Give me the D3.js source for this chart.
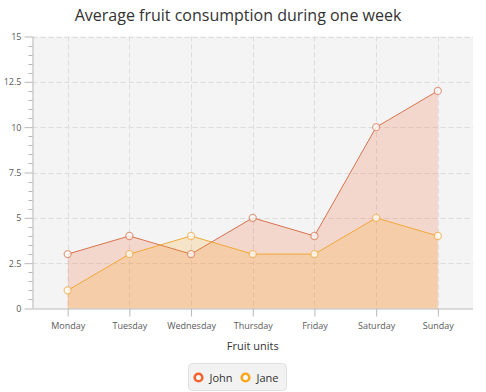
<!DOCTYPE html>
<html>
<head>
<meta charset="utf-8">
<script src="https://cdn.jsdelivr.net/npm/d3@7"></script>
<style>
  body { margin: 0; background: #fff; }
  text { font-family: "Open Sans", "Noto Sans", sans-serif; }
</style>
</head>
<body>
<svg id="chart" width="486" height="392"></svg>
<script>

var days = ['Monday', 'Tuesday', 'Wednesday', 'Thursday', 'Friday', 'Saturday', 'Sunday'];
var john = [3, 4, 3, 5, 4, 10, 12];
var jane = [1, 3, 4, 3, 3, 5, 4];
var yTicks = [0, 2.5, 5, 7.5, 10, 12.5, 15];
var seriesNames = ['John', 'Jane'];
var seriesColors = ['#f3622d', '#fba71b'];
var lineColors = ['#d9724f', '#f0a83a'];

var svg = d3.select('#chart');
var plot = { left: 32.5, right: 473, top: 36.5, bottom: 308.5 };

var x = d3.scalePoint()
    .domain(days)
    .range([plot.left, plot.right])
    .padding(0.57);

var y = d3.scaleLinear()
    .domain([0, 15])
    .range([plot.bottom, plot.top]);

// background
svg.append('rect')
    .attr('x', plot.left)
    .attr('y', plot.top)
    .attr('width', plot.right - plot.left)
    .attr('height', plot.bottom - plot.top)
    .attr('fill', '#f4f4f4');

// grid
svg.append('g')
    .selectAll('line')
    .data(yTicks.slice(1))
    .enter()
    .append('line')
    .attr('x1', plot.left)
    .attr('x2', plot.right)
    .attr('y1', function(d) { return Math.round(y(d)) + 0.5; })
    .attr('y2', function(d) { return Math.round(y(d)) + 0.5; })
    .attr('stroke', '#dcdcdc')
    .attr('stroke-dasharray', '5,3');

svg.append('g')
    .selectAll('line')
    .data(days)
    .enter()
    .append('line')
    .attr('x1', function(d) { return Math.round(x(d)) + 0.5; })
    .attr('x2', function(d) { return Math.round(x(d)) + 0.5; })
    .attr('y1', plot.top)
    .attr('y2', plot.bottom)
    .attr('stroke', '#dcdcdc')
    .attr('stroke-dasharray', '5,3');

// series
var series = [john, jane];

var area = d3.area()
    .x(function(d, i) { return x(days[i]); })
    .y0(y(0))
    .y1(function(d) { return y(d); });

var line = d3.line()
    .x(function(d, i) { return x(days[i]); })
    .y(function(d) { return y(d); });

series.forEach(function(values, s) {
  svg.append('path')
      .datum(values)
      .attr('d', area)
      .attr('fill', seriesColors[s])
      .attr('fill-opacity', 0.2);
  svg.append('path')
      .datum(values)
      .attr('d', line)
      .attr('fill', 'none')
      .attr('stroke', lineColors[s])
      .attr('stroke-width', 1);
});

series.forEach(function(values, s) {
  svg.append('g')
      .selectAll('circle')
      .data(values)
      .enter()
      .append('circle')
      .attr('cx', function(d, i) { return x(days[i]); })
      .attr('cy', function(d) { return y(d); })
      .attr('r', 3.5)
      .attr('fill', '#fff')
      .attr('fill-opacity', 0.75)
      .attr('stroke', lineColors[s])
      .attr('stroke-opacity', 0.65)
      .attr('stroke-width', 1.3);
});

// axes
var yAxis = d3.axisLeft(y)
    .tickValues(yTicks)
    .tickFormat(function(d) { return d; })
    .tickSize(8)
    .tickPadding(3);

var gy = svg.append('g')
    .attr('transform', 'translate(' + plot.left + ',0)')
    .call(yAxis);

var minor = d3.range(0, 15.01, 0.5).filter(function(d) { return d % 2.5 !== 0; });
gy.selectAll('line.minor')
    .data(minor)
    .enter()
    .append('line')
    .attr('class', 'minor')
    .attr('x1', -4)
    .attr('x2', 0)
    .attr('y1', function(d) { return Math.round(y(d)) + 0.5; })
    .attr('y2', function(d) { return Math.round(y(d)) + 0.5; })
    .attr('stroke', '#b8b8b8');

var xAxis = d3.axisBottom(x)
    .tickSize(8)
    .tickPadding(6);

var gx = svg.append('g')
    .attr('transform', 'translate(0,' + plot.bottom + ')')
    .call(xAxis);

[gx, gy].forEach(function(g) {
  g.select('.domain').attr('stroke', '#b8b8b8');
  g.selectAll('.tick line').attr('stroke', '#b8b8b8');
  g.selectAll('.tick text')
      .attr('fill', '#5a5a5a')
      .style('font-size', '9px');
});
gx.select('.domain').attr('d', 'M' + plot.left + ',0.5H' + plot.right);
gy.select('.domain').attr('d', 'M0.5,' + plot.top + 'V' + plot.bottom);

// titles
svg.append('text')
    .attr('x', 238)
    .attr('y', 21)
    .attr('text-anchor', 'middle')
    .attr('fill', '#333')
    .style('font-size', '16px')
    .text('Average fruit consumption during one week');

svg.append('text')
    .attr('x', (plot.left + plot.right) / 2)
    .attr('y', 350)
    .attr('text-anchor', 'middle')
    .attr('fill', '#333')
    .style('font-size', '11px')
    .text('Fruit units');

// legend
var legend = svg.append('g').attr('transform', 'translate(188.5,363.5)');
legend.append('rect')
    .attr('width', 98)
    .attr('height', 27)
    .attr('rx', 4)
    .attr('fill', '#f2f2f2')
    .attr('stroke', '#e0e0e0');

var legendX = [10, 57];
seriesNames.forEach(function(name, s) {
  legend.append('circle')
      .attr('cx', legendX[s])
      .attr('cy', 14)
      .attr('r', 3.8)
      .attr('fill', '#fff')
      .attr('stroke', seriesColors[s])
      .attr('stroke-width', 2.6);
  legend.append('text')
      .attr('x', legendX[s] + 11)
      .attr('y', 18)
      .attr('fill', '#333')
      .style('font-size', '11px')
      .text(name);
});

</script>
</body>
</html>
